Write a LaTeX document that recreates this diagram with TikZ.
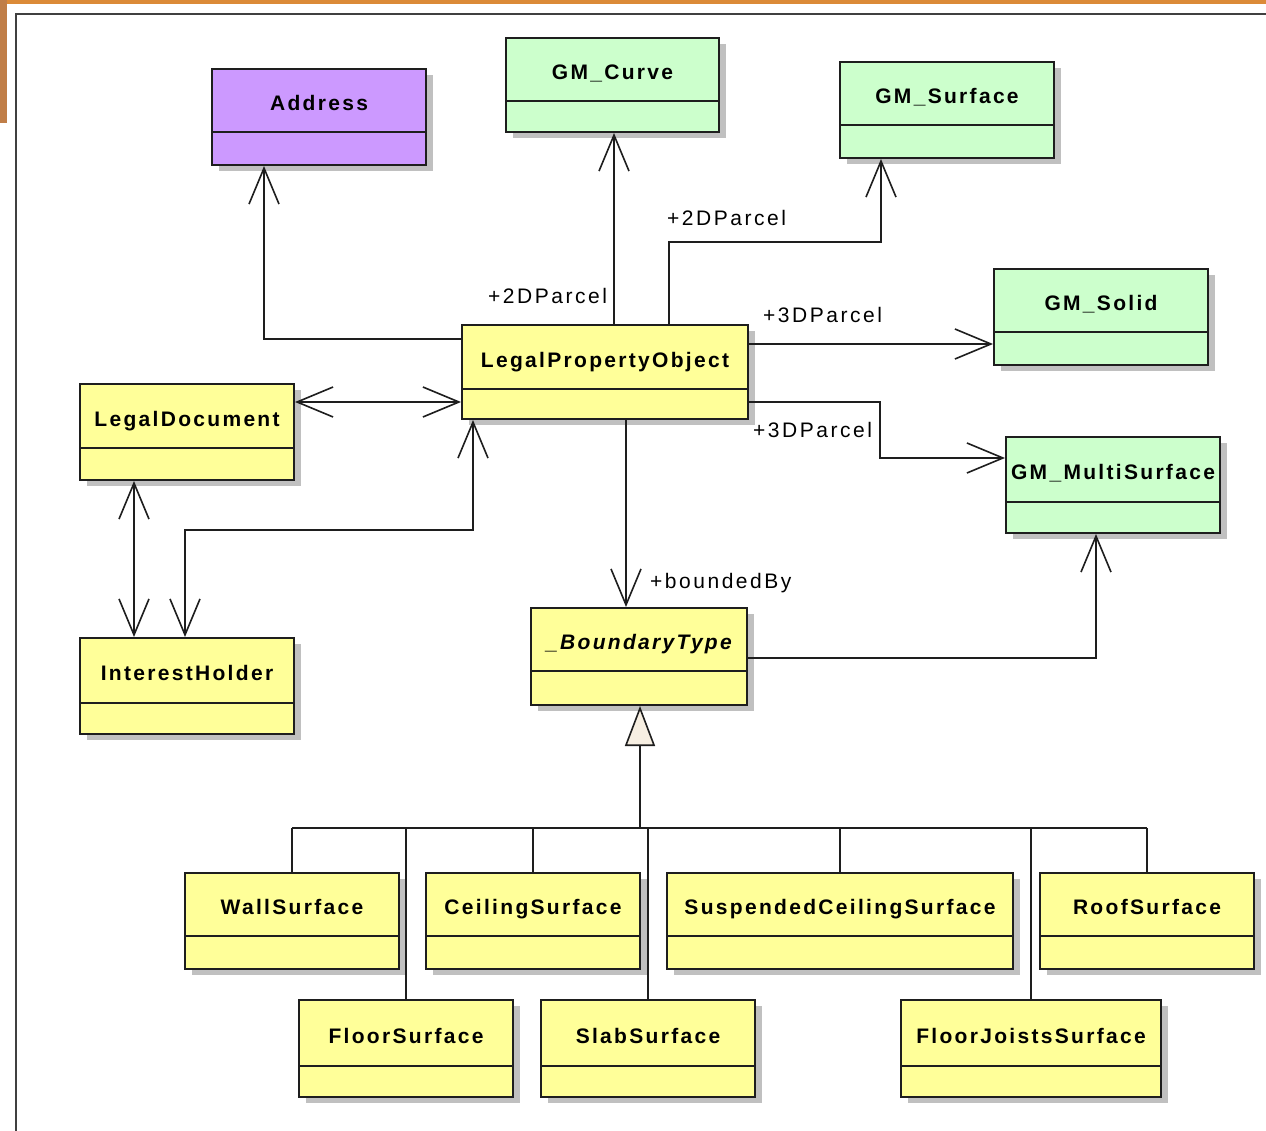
\documentclass[tikz,border=0pt]{standalone}
\usepackage{fontspec}
\usetikzlibrary{arrows.meta}
\newfontfamily\umlfont[LetterSpace=11]{Liberation Sans}
\newfontfamily\umllabelfont[LetterSpace=12]{Liberation Sans}

\definecolor{classpurple}{HTML}{CC99FF}
\definecolor{classgreen}{HTML}{CCFFCC}
\definecolor{classyellow}{HTML}{FFFF99}
\definecolor{shadowgray}{HTML}{C0C0C0}
\definecolor{linedark}{HTML}{1E1E1E}
\definecolor{framegray}{HTML}{404040}
\definecolor{genfill}{HTML}{F7EFE2}
\definecolor{edgeorange}{HTML}{DB8A38}
\definecolor{edgebrown}{HTML}{C07E48}

\tikzset{
  x=1pt, y=-1pt,
  boxshadow/.style={fill=shadowgray},
  classbox/.style={draw=linedark, line width=2pt, rectangle, inner sep=0pt},
  classline/.style={draw=linedark, line width=1.8pt},
  classtitle/.style={font=\umlfont\bfseries\fontsize{21}{24}\selectfont, inner sep=0pt, anchor=base, text=black},
  rolelabel/.style={font=\umllabelfont\fontsize{21}{24}\selectfont, inner sep=0pt, anchor=west, text=black},
  assoc/.style={draw=linedark, line width=1.6pt, -{Straight Barb[length=36pt,width=30pt]}},
  assocboth/.style={draw=linedark, line width=1.6pt, {Straight Barb[length=36pt,width=30pt]}-{Straight Barb[length=36pt,width=30pt]}},
  genarrow/.style={draw=linedark, line width=1.6pt, -{Triangle[length=40pt,width=30pt,fill=genfill]}},
  genline/.style={draw=linedark, line width=1.6pt},
}

% class box: name, left, top, width, height, divider offset, fill, title
\newcommand\umlbox[8]{%
  \fill[boxshadow] (#2+8,#3+7) rectangle ++(#4,#5);
  \node[classbox, fill=#7, minimum width=#4pt, minimum height=#5pt, anchor=north west] (#1) at (#2,#3) {};
  \draw[classline] ([yshift=-#6pt]#1.north west) -- ([yshift=-#6pt]#1.north east);
  \node[classtitle] (#1-title) at ([yshift={-(#6/2+10.5)*1pt}]#1.north) {#8};
}

\begin{document}
\begin{tikzpicture}
\useasboundingbox (0,0) rectangle (1266,1131);
\fill[white] (0,0) rectangle (1266,1131);

% page edge and frame
\fill[edgeorange] (0,0) rectangle (1266,4);
\fill[edgebrown] (0,0) rectangle (7,123);
\draw[framegray, line width=2.5pt] (16,1131) -- (16,14) -- (1266,14);

% classes
\umlbox{address}{211}{68}{214}{96}{64}{classpurple}{Address}
\umlbox{gmcurve}{505}{37}{213}{94}{64}{classgreen}{GM\_Curve}
\umlbox{gmsurface}{839}{61}{214}{96}{64}{classgreen}{GM\_Surface}
\umlbox{gmsolid}{993}{268}{214}{96}{64}{classgreen}{GM\_Solid}
\umlbox{gmmulti}{1005}{436}{214}{96}{66}{classgreen}{GM\_MultiSurface}
\umlbox{lpo}{461}{324}{286}{94}{65}{classyellow}{LegalPropertyObject}
\umlbox{legaldoc}{79}{383}{214}{96}{65}{classyellow}{LegalDocument}
\umlbox{holder}{79}{637}{214}{96}{66}{classyellow}{InterestHolder}
\umlbox{bt}{530}{607}{216}{97}{64}{classyellow}{\itshape \_BoundaryType}
\umlbox{wall}{184}{872}{214}{96}{64}{classyellow}{WallSurface}
\umlbox{ceiling}{425}{872}{214}{96}{64}{classyellow}{CeilingSurface}
\umlbox{suspended}{666}{872}{346}{96}{64}{classyellow}{SuspendedCeilingSurface}
\umlbox{roof}{1039}{872}{214}{96}{64}{classyellow}{RoofSurface}
\umlbox{floor}{298}{999}{214}{97}{67}{classyellow}{FloorSurface}
\umlbox{slab}{540}{999}{214}{97}{67}{classyellow}{SlabSurface}
\umlbox{joists}{900}{999}{260}{97}{67}{classyellow}{FloorJoistsSurface}

% associations
\draw[assoc] ([yshift=-15pt]lpo.north west) -| ([xshift=-55pt]address.south);

\coordinate (curvefoot) at ([xshift=9pt]lpo.north);
\draw[assoc] (curvefoot) -- (curvefoot |- gmcurve.south);
\node[rolelabel] (lblcurve) at (488,296) {+2DParcel};

\coordinate (surffoot) at ([xshift=64pt]lpo.north);
\coordinate (surfhead) at ([xshift=-66pt]gmsurface.south);
\coordinate (surfbend) at ([yshift=-83pt]surfhead);
\draw[assoc] (surffoot) |- (surfbend) -- (surfhead);
\node[rolelabel] (lblsurf) at (667,218) {+2DParcel};

\coordinate (solidfoot) at ([yshift=-20pt]lpo.north east);
\draw[assoc] (solidfoot) -- (solidfoot -| gmsolid.west);
\node[rolelabel] (lblsolid) at (763,315) {+3DParcel};

\coordinate (multifoot) at ([yshift=-78pt]lpo.north east);
\coordinate (multibend) at ([xshift=131pt]multifoot);
\coordinate (multihead) at ([yshift=-22pt]gmmulti.north west);
\draw[assoc] (multifoot) -- (multibend) |- (multihead);
\node[rolelabel] (lblmulti) at (753,430) {+3DParcel};

\coordinate (docend) at ([yshift=-78pt]lpo.north west);
\draw[assocboth] (docend -| legaldoc.east) -- (docend);

\coordinate (holderend) at ([xshift=-2pt]holder.north);
\coordinate (lpobottom) at ([xshift=12pt]lpo.south west);
\coordinate (holderbend) at ([yshift=107pt]holderend);
\draw[assocboth] (holderend) -- (holderbend) -| (lpobottom);

\draw[assocboth] ([xshift=-53pt]legaldoc.south) -- ([xshift=-53pt]holder.north);

\coordinate (btfoot) at ([xshift=21pt]lpo.south);
\draw[assoc] (btfoot) -- (btfoot |- bt.north);
\node[rolelabel] (lblbounded) at (650,583) {+boundedBy};

\coordinate (btright) at ([yshift=-51pt]bt.north east);
\coordinate (btmulti) at ([xshift=-17pt]gmmulti.south);
\draw[assoc] (btright) -| (btmulti);

% generalization tree
\coordinate (gentip) at ([xshift=1pt]bt.south);
\coordinate (bus) at ([yshift=-122pt]gentip);
\draw[genarrow] (bus) -- (gentip);
\draw[genline] (wall.north |- bus) -- (roof.north |- bus);
\foreach \child in {wall,ceiling,suspended,roof,floor,slab,joists}{
  \draw[genline] (\child.north) -- (\child.north |- bus);
}
\end{tikzpicture}
\end{document}
